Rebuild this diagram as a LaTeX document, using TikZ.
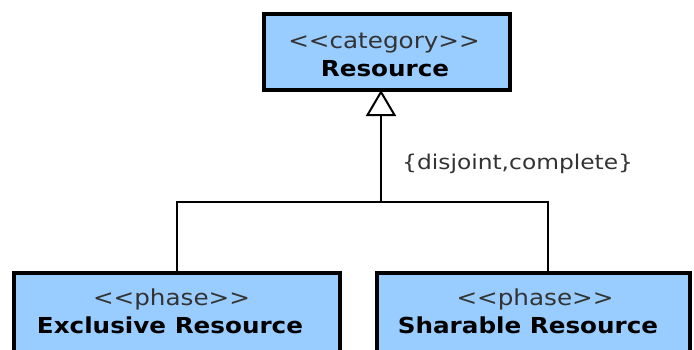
\documentclass[tikz,border=0pt]{standalone}
\usepackage{fontspec}
\usetikzlibrary{arrows.meta}
\newfontfamily\umlfont[FakeStretch=1.12]{DejaVu Sans}
\newfontfamily\constrfont[FakeStretch=1.15]{DejaVu Sans}
\definecolor{classfill}{HTML}{99CCFF}
\definecolor{stereo}{HTML}{333333}
% stereotype brackets, kept as two separate characters
\newcommand{\stlt}{<\kern0pt<}
\newcommand{\stgt}{>\kern0pt>}
\tikzset{
  classbox/.style={draw=black, line width=4pt, fill=classfill, rectangle,
    inner sep=0pt, outer sep=0pt},
  stereotxt/.style={anchor=base, inner sep=0pt, text=stereo,
    font=\umlfont\fontsize{22}{26}\selectfont},
  nametxt/.style={anchor=base, inner sep=0pt, text=black,
    font=\umlfont\bfseries\fontsize{22}{26}\selectfont},
  constrtxt/.style={anchor=base west, inner sep=0pt, text=stereo,
    font=\constrfont\fontsize{20.3}{24}\selectfont},
  conn/.style={draw=black, line width=2pt},
}
\begin{document}
\begin{tikzpicture}[x=1pt, y=-1pt]
\useasboundingbox (0,0) rectangle (694,349);
\clip (0,0) rectangle (694,349);

% classes
\node[classbox, minimum width=246pt, minimum height=76pt] (res) at (387,52) {};
\node[classbox, minimum width=326pt, minimum height=100pt] (exc) at (177,323) {};
\node[classbox, minimum width=313pt, minimum height=100pt] (sha) at (533.5,323) {};

% class texts
\node[stereotxt] (resst) at (384,48.5) {\stlt category\stgt};
\node[nametxt]   (resnm) at (385,76) {Resource};
\node[stereotxt] (excst) at (171.5,305.5) {\stlt phase\stgt};
\node[nametxt]   (excnm) at (170,333.5) {Exclusive Resource};
\node[stereotxt] (shast) at (535,305.5) {\stlt phase\stgt};
\node[nametxt]   (shanm) at (528,333.5) {Sharable Resource};

% generalization set
\coordinate (j) at (381,202);
\coordinate (shatop) at (548,273);
\draw[conn, -{Triangle[width=30pt, length=26pt, fill=white, line width=2pt]}]
  (j) -- (res.south -| j);
\draw[conn] (exc.north) |- (j);
\draw[conn] (j) -| (shatop);

\node[constrtxt] (gs) at (402,169.5) {\{disjoint,complete\}};
\end{tikzpicture}
\end{document}
